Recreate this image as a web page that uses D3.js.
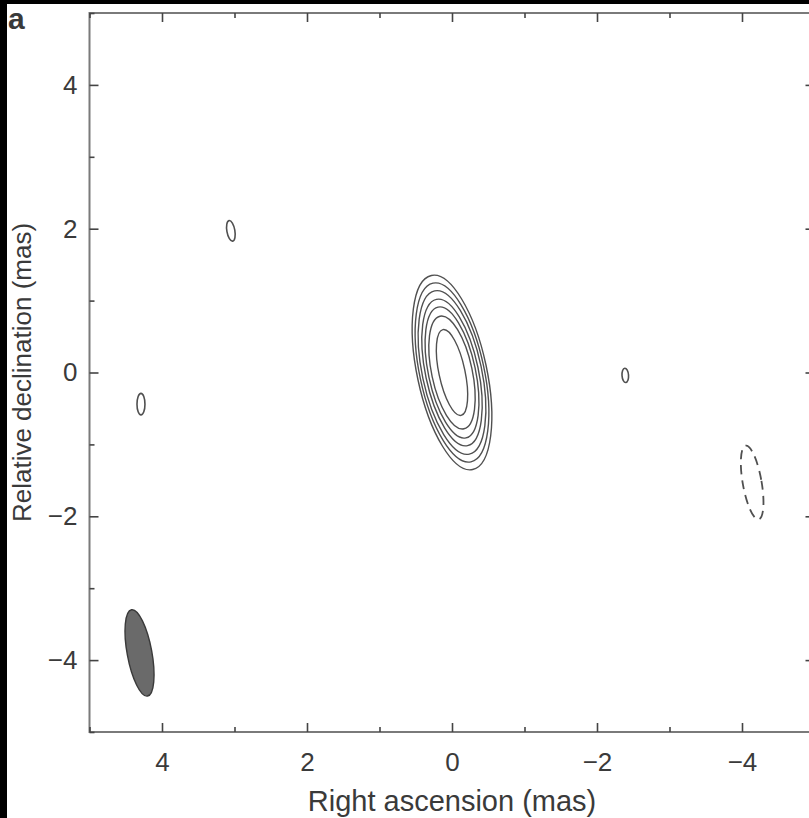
<!DOCTYPE html>
<html>
<head>
<meta charset="utf-8">
<script src="https://cdn.jsdelivr.net/npm/d3@7"></script>
<style>
  html, body { margin: 0; padding: 0; background: #000; }
  svg { display: block; }
  text { font-family: "Liberation Sans", Arial, Helvetica, sans-serif; fill: #3a3a3a; }
</style>
</head>
<body>
<script>
// Axis ticks (mas)
const majorTicks = [4, 2, 0, -2, -4];
const minorTicks = [5, 3, 1, -1, -3, -5];

// Core: nested positive contours (semi-axes in mas, outermost first)
const coreRA = 0.0;
const coreDec = 0.0;
const corePA = 12;
const coreMajor = [1.38, 1.27, 1.16, 1.04, 0.93, 0.80, 0.61];
const coreMinor = [0.48, 0.445, 0.41, 0.365, 0.325, 0.28, 0.18];

// Faint positive features (lowest contour only)
const featRA = [3.05, 4.29, -2.39];
const featDec = [1.97, -0.44, -0.04];
const featMajor = [0.145, 0.15, 0.10];
const featMinor = [0.055, 0.055, 0.045];
const featPA = [10, 0, 4];

// Negative contour (dashed)
const negRA = [-4.14];
const negDec = [-1.53];
const negMajor = [0.52];
const negMinor = [0.13];
const negPA = [10];

// Restoring beam
const beamRA = 4.31;
const beamDec = -3.90;
const beamMajor = 0.61;
const beamMinor = 0.17;
const beamPA = 10.5;

const W = 809, H = 818;
const svg = d3.select("body").append("svg").attr("width", W).attr("height", H);

// white sheet over the dark page
svg.append("rect").attr("x", 7).attr("y", 4).attr("width", W - 7).attr("height", H - 4).attr("fill", "#fff");

const x = d3.scaleLinear().domain([5, -5]).range([89.5, 814.5]);
const y = d3.scaleLinear().domain([-5, 5]).range([732, 13]);

const plot = svg.append("g");

// frame
plot.append("rect")
  .attr("x", x(5)).attr("y", y(5))
  .attr("width", x(-5) - x(5)).attr("height", y(-5) - y(5))
  .attr("fill", "none").attr("stroke", "#7a7a7a").attr("stroke-width", 2);

function styleAxis(g) {
  g.select(".domain").remove();
  g.selectAll(".tick line").attr("stroke", "#444").attr("stroke-width", 1.6);
  g.selectAll(".tick text").attr("font-size", 26).attr("fill", "#3a3a3a");
}

const axBottom = d3.axisBottom(x).tickValues(majorTicks).tickSize(-9).tickPadding(21);
plot.append("g").attr("transform", `translate(0,${y(-5)})`).call(axBottom).call(styleAxis);
plot.append("g").attr("transform", `translate(0,${y(-5)})`)
  .call(d3.axisBottom(x).tickValues(minorTicks).tickSize(-5).tickFormat("")).call(styleAxis);

const axTop = d3.axisTop(x).tickValues(majorTicks).tickSize(-9).tickFormat("");
plot.append("g").attr("transform", `translate(0,${y(5)})`).call(axTop).call(styleAxis);
plot.append("g").attr("transform", `translate(0,${y(5)})`)
  .call(d3.axisTop(x).tickValues(minorTicks).tickSize(-5).tickFormat("")).call(styleAxis);

const axLeft = d3.axisLeft(y).tickValues(majorTicks).tickSize(-9).tickPadding(12);
plot.append("g").attr("transform", `translate(${x(5)},0)`).call(axLeft).call(styleAxis);
plot.append("g").attr("transform", `translate(${x(5)},0)`)
  .call(d3.axisLeft(y).tickValues(minorTicks).tickSize(-5).tickFormat("")).call(styleAxis);

plot.append("g").attr("transform", `translate(${x(-5)},0)`)
  .call(d3.axisRight(y).tickValues(majorTicks).tickSize(-9).tickFormat("")).call(styleAxis);
plot.append("g").attr("transform", `translate(${x(-5)},0)`)
  .call(d3.axisRight(y).tickValues(minorTicks).tickSize(-5).tickFormat("")).call(styleAxis);

// ellipse helper: major axis along position angle (east of north, east to the left)
function drawEllipse(g, ra, dec, maj, min, pa) {
  const cx = x(ra), cy = y(dec);
  return g.append("ellipse")
    .attr("cx", cx).attr("cy", cy)
    .attr("rx", x(0) - x(min))
    .attr("ry", y(0) - y(maj))
    .attr("transform", `rotate(${-pa},${cx},${cy})`);
}

const marks = plot.append("g");

coreMajor.forEach((m, i) => {
  drawEllipse(marks, coreRA, coreDec, m, coreMinor[i], corePA)
    .attr("fill", "none").attr("stroke", "#505050").attr("stroke-width", 1.4);
});

featRA.forEach((ra, i) => {
  drawEllipse(marks, ra, featDec[i], featMajor[i], featMinor[i], featPA[i])
    .attr("fill", "none").attr("stroke", "#505050").attr("stroke-width", 1.6);
});

negRA.forEach((ra, i) => {
  drawEllipse(marks, ra, negDec[i], negMajor[i], negMinor[i], negPA[i])
    .attr("fill", "none").attr("stroke", "#505050").attr("stroke-width", 1.8)
    .attr("stroke-dasharray", "9,6");
});

drawEllipse(marks, beamRA, beamDec, beamMajor, beamMinor, beamPA)
  .attr("fill", "#6a6a6a").attr("stroke", "#3a3a3a").attr("stroke-width", 1.4);

// axis titles
svg.append("text")
  .attr("x", x(0)).attr("y", 811)
  .attr("text-anchor", "middle").attr("font-size", 29)
  .text("Right ascension (mas)");

svg.append("text")
  .attr("transform", `translate(31,${y(0)}) rotate(-90)`)
  .attr("text-anchor", "middle").attr("font-size", 26)
  .text("Relative declination (mas)");

// panel label
svg.append("text")
  .attr("x", 8).attr("y", 29)
  .attr("font-size", 30).attr("font-weight", "bold").attr("fill", "#2a2a2a")
  .text("a");
</script>
</body>
</html>
